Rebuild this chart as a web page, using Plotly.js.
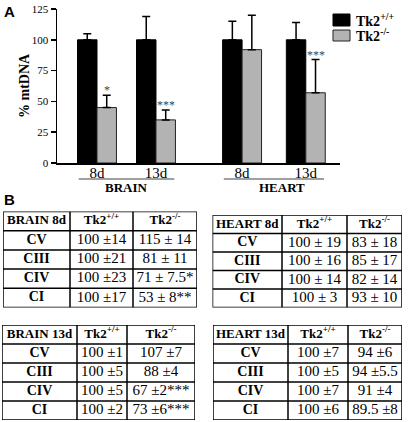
<!DOCTYPE html>
<html><head><meta charset="utf-8">
<script src="https://cdn.plot.ly/plotly-3.0.1.min.js"></script>
<style>html,body{margin:0;padding:0;background:#fff}#chart{width:410px;height:422px}</style>
</head><body><div id="chart"></div>
<script>
// ---------- Panel A data ----------
const groups = ['8d', '13d', '8d', '13d'];
const tissues = ['BRAIN', 'HEART'];
const seriesNames = ['Tk2<sup>+/+</sup>', 'Tk2<sup>-/-</sup>'];
const wtMean = [100, 100, 100, 100];
const wtErr = [5, 19, 15, 14];
const koMean = [45, 35, 92, 57];
const koErr = [10, 8, 28, 27];
const koSig = ['*', '***', '', '***'];
const yTicks = [0, 25, 50, 75, 100, 125];

// ---------- Panel B data ----------
const complexes = ['CV', 'CIII', 'CIV', 'CI'];
const tableTitles = ['BRAIN 8d', 'HEART 8d', 'BRAIN 13d', 'HEART 13d'];
const brain8WtMean = [100, 100, 100, 100];
const brain8WtSd = [14, 21, 23, 17];
const brain8KoMean = [115, 81, 71, 53];
const brain8KoSd = [14, 11, 7.5, 8];
const brain8KoSig = ['', '', '*', '**'];
const heart8WtMean = [100, 100, 100, 100];
const heart8WtSd = [19, 16, 14, 3];
const heart8KoMean = [83, 85, 82, 93];
const heart8KoSd = [18, 17, 14, 10];
const heart8KoSig = ['', '', '', ''];
const brain13WtMean = [100, 100, 100, 100];
const brain13WtSd = [1, 5, 5, 2];
const brain13KoMean = [107, 88, 67, 73];
const brain13KoSd = [7, 4, 2, 6];
const brain13KoSig = ['', '', '***', '***'];
const heart13WtMean = [100, 100, 100, 100];
const heart13WtSd = [7, 5, 7, 6];
const heart13KoMean = [94, 94, 91, 89.5];
const heart13KoSd = [6, 5.5, 4, 8];
const heart13KoSig = ['', '', '', ''];

// ---------- layout constants ----------
const W = 410, H = 422;
const px = v => v / W;
const py = v => (H - v) / H;
const SERIF = 'Liberation Serif, Times New Roman, serif';
const SANS = 'Liberation Sans, Arial, sans-serif';
const groupPos = [1, 2, 3.46, 4.54];
const bw = 0.33;
const colors = ['#000000', '#b3b3b3'];
const outlines = ['#000000', '#222222'];

const traces = [];
traces.push({
  type: 'bar', name: seriesNames[0], x: groupPos, y: wtMean,
  width: bw, offset: -bw, showlegend: false,
  marker: {color: colors[0], line: {color: outlines[0], width: 1}},
  error_y: {type: 'data', array: wtErr, arrayminus: wtErr.map(() => 0), symmetric: false,
            color: '#000', thickness: 1.5, width: 4},
  hoverinfo: 'none'
});
traces.push({
  type: 'bar', name: seriesNames[1], x: groupPos, y: koMean,
  width: bw, offset: 0, showlegend: false,
  marker: {color: colors[1], line: {color: outlines[1], width: 1}},
  error_y: {type: 'data', array: koErr, arrayminus: koErr.map(() => 0), symmetric: false,
            color: '#000', thickness: 1.5, width: 4},
  hoverinfo: 'none'
});

const annotations = [];
const shapes = [];
koSig.forEach((s, i) => {
  if (!s) return;
  annotations.push({x: groupPos[i] + bw / 2, y: koMean[i] + koErr[i], xref: 'x', yref: 'y',
    text: s, showarrow: false, yanchor: 'bottom', yshift: -4,
    font: {family: SERIF, size: 12, color: '#444'}});
});
// tissue underlines and labels
[[0, 1], [2, 3]].forEach((pair, k) => {
  const x0 = groupPos[pair[0]] - 0.31, x1 = groupPos[pair[1]] + 0.31;
  shapes.push({type: 'line', xref: 'x', yref: 'paper', x0: x0, x1: x1, y0: py(179), y1: py(179),
    line: {color: '#808080', width: 1.5}});
  annotations.push({x: (groupPos[pair[0]] + groupPos[pair[1]]) / 2 + (k ? 0.13 : 0), y: py(187.5),
    xref: 'x', yref: 'paper', text: '<b>' + tissues[k] + '</b>', showarrow: false,
    yanchor: 'middle', font: {family: SERIF, size: 13, color: '#000'}});
});
// legend (manual)
seriesNames.forEach((nm, k) => {
  const top = [14, 30][k], bot = [26, 41][k];
  shapes.push({type: 'rect', xref: 'paper', yref: 'paper', x0: px(333), x1: px(350), y0: py(bot), y1: py(top),
    fillcolor: colors[k], line: {color: outlines[k], width: 1}});
  annotations.push({x: px(354), y: py((top + bot) / 2), xref: 'paper', yref: 'paper', text: '<b>' + nm + '</b>',
    showarrow: false, xanchor: 'left', yanchor: 'middle', font: {family: SERIF, size: 14, color: '#000'}});
});
// y axis title
annotations.push({x: px(24), y: py(86), xref: 'paper', yref: 'paper', text: '<b>% mtDNA</b>', textangle: -90,
  showarrow: false, xanchor: 'center', yanchor: 'middle', font: {family: SERIF, size: 14, color: '#000'}});
// panel letters
annotations.push({x: px(2), y: py(1), xref: 'paper', yref: 'paper', text: '<b>A</b>',
  showarrow: false, xanchor: 'left', yanchor: 'top', font: {family: SANS, size: 15, color: '#000'}});
annotations.push({x: px(2), y: py(189), xref: 'paper', yref: 'paper', text: '<b>B</b>',
  showarrow: false, xanchor: 'left', yanchor: 'top', font: {family: SANS, size: 15, color: '#000'}});

// ---------- tables ----------
const fmt = (m, s, sep, sig) => m + sep + s + (sig || '');
const tables = [
  {title: tableTitles[0], wm: brain8WtMean, ws: brain8WtSd, km: brain8KoMean, ks: brain8KoSd, sig: brain8KoSig,
   sepW: ' \u00b1', sepK: ' \u00b1 ', box: [3, 211.5, 197, 307.5], cols: [67, 63, 64]},
  {title: tableTitles[1], wm: heart8WtMean, ws: heart8WtSd, km: heart8KoMean, ks: heart8KoSd, sig: heart8KoSig,
   sepW: ' \u00b1 ', sepK: ' \u00b1 ', box: [212.5, 215, 402, 307.5], cols: [69.5, 65, 55]},
  {title: tableTitles[2], wm: brain13WtMean, ws: brain13WtSd, km: brain13KoMean, ks: brain13KoSd, sig: brain13KoSig,
   sepW: ' \u00b1', sepK: ' \u00b1', box: [2, 325, 195, 420], cols: [75, 50, 68]},
  {title: tableTitles[3], wm: heart13WtMean, ws: heart13WtSd, km: heart13KoMean, ks: heart13KoSd, sig: heart13KoSig,
   sepW: ' \u00b1', sepK: ' \u00b1', box: [213, 325, 402, 420], cols: [75, 60, 54]}
];

const layout = {
  width: W, height: H, autosize: false,
  margin: {l: 0, r: 0, t: 0, b: 0},
  paper_bgcolor: '#fff', plot_bgcolor: 'rgba(0,0,0,0)',
  barmode: 'overlay',
  showlegend: false,
  xaxis: {domain: [px(57), px(340)], range: [0.322, 5.12], tickvals: groupPos, ticktext: groups,
    showline: true, linecolor: '#000', linewidth: 1.5, ticks: '', showgrid: false, zeroline: false,
    ticklabelstandoff: -5,
    tickfont: {family: SERIF, size: 15, color: '#000'}, fixedrange: true},
  yaxis: {domain: [py(163), py(9)], range: [0, 125], tickvals: yTicks, ticks: 'outside', ticklen: 5,
    tickwidth: 1.5, tickcolor: '#000', showline: true, linecolor: '#000', linewidth: 1.5,
    showgrid: false, zeroline: false, tickfont: {family: SERIF, size: 11, color: '#000'},
    fixedrange: true},
  annotations: annotations,
  shapes: shapes
};

tables.forEach((t, i) => {
  const n = i + 2;
  const xa = 'x' + n, ya = 'y' + n;
  const total = t.cols.reduce((a, b) => a + b, 0);
  const edges = [0];
  t.cols.forEach(c => edges.push(edges[edges.length - 1] + c));
  const cx = t.cols.map((c, j) => edges[j] + c / 2);
  layout['xaxis' + n] = {domain: [px(t.box[0]), px(t.box[2])], range: [0, total], visible: false,
    anchor: ya, fixedrange: true};
  layout['yaxis' + n] = {domain: [py(t.box[3]), py(t.box[1])], range: [5, 0], visible: false,
    anchor: xa, fixedrange: true};
  shapes.push({type: 'rect', xref: xa, yref: ya, x0: 0, x1: total, y0: 0, y1: 5,
    line: {color: '#000', width: 1.5}});
  for (let r = 1; r < 5; r++) shapes.push({type: 'line', xref: xa, yref: ya, x0: 0, x1: total, y0: r, y1: r,
    line: {color: '#000', width: 1.5}});
  for (let c = 1; c < 3; c++) shapes.push({type: 'line', xref: xa, yref: ya, x0: edges[c], x1: edges[c], y0: 0, y1: 5,
    line: {color: '#000', width: 1.5}});
  traces.push({type: 'scatter', mode: 'text', xaxis: xa, yaxis: ya, showlegend: false, hoverinfo: 'none',
    cliponaxis: false,
    x: [cx[0], cx[1], cx[2]], y: [0.5, 0.5, 0.5],
    text: ['<b>' + t.title + '</b>', '<b>' + seriesNames[0] + '</b>', '<b>' + seriesNames[1] + '</b>'],
    textposition: 'middle center', textfont: {family: SERIF, size: 13, color: '#000'}});
  traces.push({type: 'scatter', mode: 'text', xaxis: xa, yaxis: ya, showlegend: false, hoverinfo: 'none',
    cliponaxis: false,
    x: complexes.map(() => cx[0]), y: complexes.map((c, r) => r + 1.5),
    text: complexes.map(c => '<b>' + c + '</b>'),
    textposition: 'middle center', textfont: {family: SERIF, size: 14, color: '#000'}});
  traces.push({type: 'scatter', mode: 'text', xaxis: xa, yaxis: ya, showlegend: false, hoverinfo: 'none',
    cliponaxis: false,
    x: complexes.map(() => cx[1]).concat(complexes.map(() => cx[2])),
    y: complexes.map((c, r) => r + 1.5).concat(complexes.map((c, r) => r + 1.5)),
    text: t.wm.map((m, r) => fmt(m, t.ws[r], t.sepW, '')).concat(t.km.map((m, r) => fmt(m, t.ks[r], t.sepK, t.sig[r]))),
    textposition: 'middle center', textfont: {family: SERIF, size: 15, color: '#000'}});
});

Plotly.newPlot('chart', traces, layout, {staticPlot: true, displayModeBar: false});
</script>
</body></html>
